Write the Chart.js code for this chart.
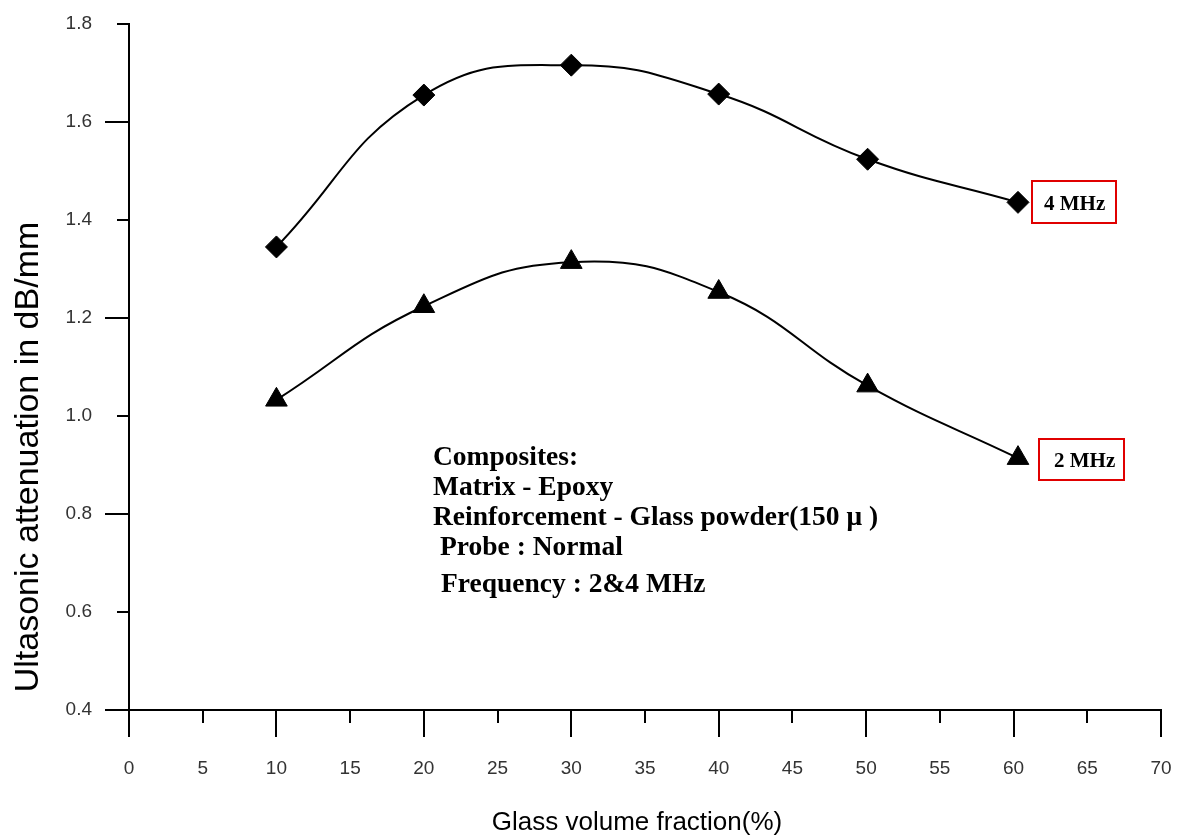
<!DOCTYPE html>
<html>
<head>
<meta charset="utf-8">
<script src="https://cdn.jsdelivr.net/npm/chart.js@4.4.1/dist/chart.umd.min.js"></script>
<style>
  html, body { margin: 0; padding: 0; background: #fff; }
</style>
</head>
<body>
<canvas id="attenuation" width="1178" height="837"></canvas>
<script>
// values
const fraction = [10, 20, 30, 40, 50.1, 60.3];
const mhz4 = [1.345, 1.655, 1.716, 1.657, 1.524, 1.436];
const mhz2 = [1.033, 1.224, 1.314, 1.253, 1.062, 0.914];

const xTicks = [0, 5, 10, 15, 20, 25, 30, 35, 40, 45, 50, 55, 60, 65, 70];
const yTicks = [0.4, 0.6, 0.8, 1.0, 1.2, 1.4, 1.6, 1.8];

const xTitle = 'Glass volume fraction(%)';
const yTitle = 'Ultasonic attenuation in dB/mm';
const noteLines = [
  'Composites:',
  'Matrix - Epoxy',
  'Reinforcement - Glass powder(150 \u03bc )',
  'Probe : Normal',
  'Frequency : 2&4 MHz'
];

const sans = "'Liberation Sans', Arial, sans-serif";
const serif = "'Liberation Serif', 'Times New Roman', serif";

function points(ys) {
  return fraction.map((f, i) => ({x: f, y: ys[i]}));
}

// long ticks on every other tick, short ones in between
const tickMarks = {
  id: 'tickMarks',
  afterDraw(chart) {
    const {ctx} = chart;
    const xs = chart.scales.x, ys = chart.scales.y;
    ctx.save();
    ctx.strokeStyle = '#000';
    ctx.lineWidth = 2;
    ctx.beginPath();
    xs.ticks.forEach((t, i) => {
      const px = Math.round(xs.getPixelForValue(t.value));
      ctx.moveTo(px, xs.top);
      ctx.lineTo(px, xs.top + (i % 2 === 0 ? 27 : 13));
    });
    ys.ticks.forEach((t, i) => {
      const py = Math.round(ys.getPixelForValue(t.value));
      ctx.moveTo(ys.right, py);
      ctx.lineTo(ys.right - (i % 2 === 0 ? 24 : 12), py);
    });
    ctx.stroke();
    ctx.restore();
  }
};

// axis titles, note block and the boxed series labels
const annotations = {
  id: 'annotations',
  afterDraw(chart) {
    const {ctx} = chart;
    ctx.save();
    ctx.fillStyle = '#000';

    ctx.font = '26px ' + sans;
    ctx.textAlign = 'center';
    ctx.textBaseline = 'alphabetic';
    ctx.fillText(xTitle, 637, 830);

    ctx.save();
    ctx.translate(38, 457);
    ctx.rotate(-Math.PI / 2);
    ctx.font = '34px ' + sans;
    ctx.fillText(yTitle, 0, 0);
    ctx.restore();

    ctx.textAlign = 'left';
    ctx.font = 'bold 27.5px ' + serif;
    const noteX = [433, 433, 433, 440, 441];
    const noteY = [465, 495, 525, 555, 592];
    noteLines.forEach((line, i) => ctx.fillText(line, noteX[i], noteY[i]));

    const boxes = [
      {ds: 0, dx: 14, top: -21, h: 42, w: 84, tx: 12, ty: 8},
      {ds: 1, dx: 21, top: -19, h: 41, w: 85, tx: 15, ty: 9}
    ];
    ctx.font = 'bold 21px ' + serif;
    ctx.strokeStyle = '#e00000';
    ctx.lineWidth = 2;
    boxes.forEach(b => {
      const meta = chart.getDatasetMeta(b.ds);
      const p = meta.data[meta.data.length - 1];
      const left = Math.round(p.x + b.dx), top = Math.round(p.y + b.top);
      ctx.strokeRect(left, top, b.w, b.h);
      ctx.fillText(chart.data.datasets[b.ds].label, left + b.tx, p.y + b.ty);
    });
    ctx.restore();
  }
};

new Chart(document.getElementById('attenuation'), {
  type: 'line',
  data: {
    datasets: [{
      label: '4 MHz',
      data: points(mhz4),
      borderColor: '#000',
      backgroundColor: '#000',
      borderWidth: 2,
      pointStyle: 'rectRot',
      pointRadius: 11,
      pointBorderWidth: 1,
      tension: 0.45
    }, {
      label: '2 MHz',
      data: points(mhz2),
      borderColor: '#000',
      backgroundColor: '#000',
      borderWidth: 2,
      pointStyle: 'triangle',
      pointRadius: 12.5,
      pointBorderWidth: 1,
      tension: 0.45
    }]
  },
  options: {
    responsive: false,
    animation: false,
    devicePixelRatio: 1,
    layout: { padding: { top: 24, right: 17, bottom: 0, left: 0 } },
    plugins: {
      legend: { display: false },
      tooltip: { enabled: false }
    },
    scales: {
      x: {
        type: 'linear',
        min: 0,
        max: 70,
        afterBuildTicks: s => { s.ticks = xTicks.map(v => ({value: v})); },
        afterFit: s => { s.height = 127; s.paddingLeft = 0; s.paddingRight = 0; },
        border: { display: true, color: '#000', width: 2 },
        grid: { drawOnChartArea: false, tickColor: 'rgba(0,0,0,0)', tickLength: 27 },
        ticks: {
          padding: 20,
          maxRotation: 0,
          autoSkip: false,
          color: '#333',
          font: { family: sans, size: 19 },
          callback: v => String(v)
        }
      },
      y: {
        min: 0.4,
        max: 1.8,
        afterBuildTicks: s => { s.ticks = yTicks.map(v => ({value: v})); },
        afterFit: s => { s.width = 129; s.paddingTop = 0; s.paddingBottom = 0; },
        border: { display: true, color: '#000', width: 2 },
        grid: { drawOnChartArea: false, tickColor: 'rgba(0,0,0,0)', tickLength: 24 },
        ticks: {
          padding: 13,
          autoSkip: false,
          color: '#333',
          font: { family: sans, size: 19 },
          callback: v => Number(v).toFixed(1)
        }
      }
    }
  },
  plugins: [tickMarks, annotations]
});
</script>
</body>
</html>
